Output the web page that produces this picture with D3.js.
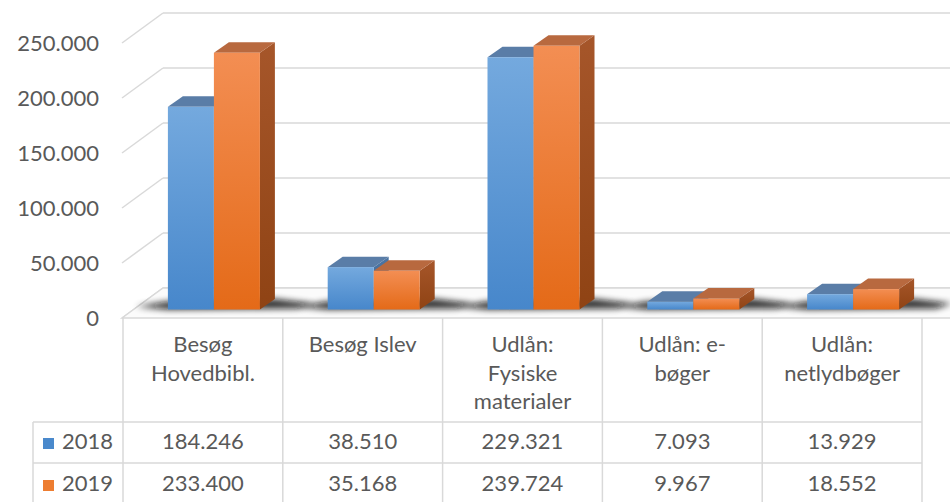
<!DOCTYPE html>
<html>
<head>
<meta charset="utf-8">
<script src="https://cdn.jsdelivr.net/npm/d3@7/dist/d3.min.js"></script>
<style>
  body { margin: 0; background: #fff; }
  svg { display: block; font-family: Lato, "Liberation Sans", sans-serif; }
</style>
</head>
<body>
<script>
// chart data
const categories = ["Besøg\nHovedbibl.", "Besøg Islev", "Udlån:\nFysiske\nmaterialer", "Udlån: e-\nbøger", "Udlån:\nnetlydbøger"];
const seriesNames = ["2018", "2019"];
const values2018 = [184246, 38510, 229321, 7093, 13929];
const values2019 = [233400, 35168, 239724, 9967, 18552];
const yTicks = [0, 50000, 100000, 150000, 200000, 250000];

const width = 950, height = 502;
const textColor = '#595959', gridColor = '#d9d9d9';

// "3D" geometry
const floorFront = 318, floorBack = 288;
const wallDx = 41;
const barBase = 309.5, barShift = 11;
const depthDx = 15, depthDy = 10.5;

const da = d3.formatLocale({decimal: ',', thousands: '.', grouping: [3], currency: ['', ' kr']});
const fmt = da.format(',d');

const svg = d3.select('body').append('svg')
  .attr('width', width)
  .attr('height', height);

const defs = svg.append('defs');
function vGrad(id, c1, c2) {
  const g = defs.append('linearGradient').attr('id', id)
    .attr('x1', 0).attr('y1', 0).attr('x2', 0).attr('y2', 1);
  g.append('stop').attr('offset', '0%').attr('stop-color', c1);
  g.append('stop').attr('offset', '100%').attr('stop-color', c2);
}
vGrad('blueFront', '#74a9de', '#4787cb');
vGrad('orangeFront', '#f38e53', '#e46a18');
vGrad('orangeSide', '#a6562a', '#8f4314');
vGrad('blueSide', '#4c75a3', '#3a6796');
defs.append('filter').attr('id', 'blur')
  .attr('x', '-50%').attr('y', '-200%').attr('width', '200%').attr('height', '500%')
  .append('feGaussianBlur').attr('stdDeviation', 3);

const series = [
  {name: seriesNames[0], values: values2018, front: 'url(#blueFront)', top: '#5a7da7', side: 'url(#blueSide)', key: '#4a89cc'},
  {name: seriesNames[1], values: values2019, front: 'url(#orangeFront)', top: '#b8693f', side: 'url(#orangeSide)', key: '#ed7d31'}
];

const x = d3.scaleBand().domain(categories).range([123, 922]);
const h = d3.scaleLinear().domain([0, 250000]).range([0, 275]);
const inner = d3.scaleBand().domain(seriesNames).range([0, 92]);

// back wall gridlines + left wall
const grid = svg.append('g').attr('stroke', gridColor).attr('stroke-width', 1.5).attr('fill', 'none');
grid.selectAll('line.back').data(yTicks).join('line')
  .attr('x1', 122 + wallDx).attr('x2', width)
  .attr('y1', d => floorBack - h(d)).attr('y2', d => floorBack - h(d));
grid.selectAll('line.side').data(yTicks).join('line')
  .attr('x1', 122).attr('x2', 122 + wallDx)
  .attr('y1', d => floorFront - h(d)).attr('y2', d => floorBack - h(d));

// floor
svg.append('polygon')
  .attr('points', [[122, floorFront], [122 + wallDx, floorBack], [width + 60, floorBack], [width + 60, floorFront]].join(' '))
  .attr('fill', '#fbfbfb').attr('stroke', gridColor).attr('stroke-width', 1.5);

// y labels
svg.append('g').selectAll('text').data(yTicks).join('text')
  .attr('x', 99).attr('y', d => floorFront - h(d))
  .attr('dy', '0.35em')
  .attr('text-anchor', 'end')
  .attr('fill', textColor).attr('font-size', 22)
  .text(d => fmt(d));

// shadows on floor
svg.append('g').selectAll('polygon').data(categories).join('polygon')
  .attr('points', d => {
    const a = x(d) + x.bandwidth() / 2 - 46 + barShift, b = a + 92 + depthDx;
    return [[a - 32, barBase - 3], [a, barBase - 8], [b, barBase - depthDy], [b + 38, barBase - 6],
      [b + 22, barBase - 1], [a, barBase]].join(' ');
  })
  .attr('fill', '#111').attr('opacity', 0.85)
  .attr('filter', 'url(#blur)');

// bars
const bars = svg.append('g');
categories.forEach((c, i) => {
  series.forEach(s => {
    const v = s.values[i];
    const x0 = x(c) + x.bandwidth() / 2 - 46 + barShift + inner(s.name);
    const w = inner.bandwidth();
    const y0 = barBase - h(v);
    const g = bars.append('g');
    g.append('polygon')
      .attr('points', [[x0 + w, y0], [x0 + w + depthDx, y0 - depthDy], [x0 + w + depthDx, barBase - depthDy], [x0 + w, barBase]].join(' '))
      .attr('fill', s.side);
    g.append('polygon')
      .attr('points', [[x0, y0], [x0 + depthDx, y0 - depthDy], [x0 + w + depthDx, y0 - depthDy], [x0 + w, y0]].join(' '))
      .attr('fill', s.top);
    g.append('rect')
      .attr('x', x0).attr('y', y0)
      .attr('width', w).attr('height', h(v))
      .attr('fill', s.front);
  });
});

// data table
const rowTop = [floorFront, 422, 463, 504];
const table = svg.append('g').attr('stroke', gridColor).attr('stroke-width', 1.5);
table.selectAll('line.row').data(rowTop.slice(1)).join('line')
  .attr('x1', 33).attr('x2', 922).attr('y1', d => d).attr('y2', d => d);
table.selectAll('line.col').data(categories).join('line')
  .attr('x1', d => x(d)).attr('x2', d => x(d))
  .attr('y1', rowTop[0]).attr('y2', rowTop[3]);
table.append('line').attr('x1', 922).attr('x2', 922).attr('y1', rowTop[0]).attr('y2', rowTop[3]);
table.append('line').attr('x1', 33).attr('x2', 33).attr('y1', rowTop[1]).attr('y2', rowTop[3]);

// category headers
const head = svg.append('g').attr('fill', textColor).attr('font-size', 22).attr('text-anchor', 'middle');
categories.forEach(c => {
  const t = head.append('text').attr('x', x(c) + x.bandwidth() / 2).attr('y', 352);
  c.split('\n').forEach((line, j) => {
    t.append('tspan').attr('x', x(c) + x.bandwidth() / 2).attr('dy', j === 0 ? 0 : 28.5).text(line);
  });
});

// value rows + legend keys
series.forEach((s, r) => {
  const yb = r === 0 ? 449 : 491;
  svg.append('rect')
    .attr('x', 43).attr('y', yb - 11).attr('width', 11).attr('height', 11)
    .attr('fill', s.key);
  svg.append('text')
    .attr('x', 62).attr('y', yb)
    .attr('fill', textColor).attr('font-size', 22)
    .text(s.name);
  svg.append('g').selectAll('text').data(categories).join('text')
    .attr('x', d => x(d) + x.bandwidth() / 2).attr('y', yb)
    .attr('text-anchor', 'middle')
    .attr('fill', textColor).attr('font-size', 22)
    .text((d, i) => fmt(s.values[i]));
});
</script>
</body>
</html>
